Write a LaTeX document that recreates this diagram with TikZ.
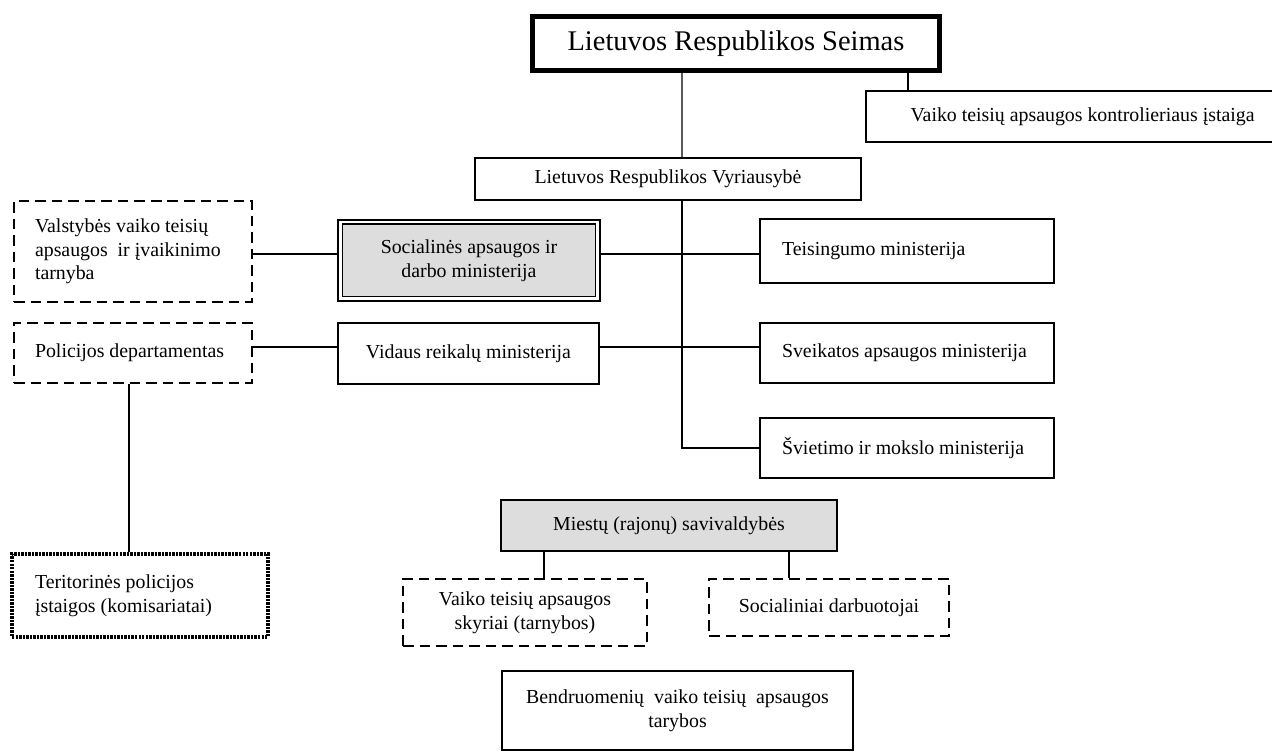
\documentclass[tikz,border=0pt]{standalone}
\usepackage{fontspec}
\setmainfont{Liberation Serif}
\usepackage{xcolor}
\definecolor{boxgray}{RGB}{221,221,221}
\definecolor{linegray}{RGB}{90,90,90}

\tikzset{
  box/.style={draw, line width=1.4pt, inner sep=0pt, align=center},
  lbox/.style={box, align=flush left, text width=#1},
  dbox/.style={box, dash pattern=on 6pt off 3.4pt},
  dotbox/.style={box, line width=2.2pt, dash pattern=on 1.4pt off 0.6pt},
  link/.style={line width=1.1pt},
}

\begin{document}
\begin{tikzpicture}[x=0.02cm, y=-0.02cm, font=\fontsize{11.3}{13.4}\selectfont]
  \useasboundingbox (0,0) rectangle (1272,753);
  \clip (0,0) rectangle (1272,753);
  % top level
  \node[box, line width=2.85pt, minimum width=8.14cm, minimum height=1.08cm,
    font=\fontsize{16.2}{19}\selectfont] (seimas) at (736,43.5) {Lietuvos Respublikos Seimas};
  \node[lbox=7.1cm, inner xsep=0.89cm, minimum height=1.02cm] (kontrol) at (1088,116.5)
    {Vaiko teisių apsaugos kontrolieriaus įstaiga};
  \node[box, minimum width=7.72cm, minimum height=0.84cm] (vyr) at (668,179)
    {Lietuvos Respublikos Vyriausybė};
  % ministries
  \node[box, fill=boxgray, double, line width=1.1pt, double distance=1.7pt,
    minimum width=5.16cm, minimum height=1.54cm] (soc) at (469,260.5)
    {Socialinės apsaugos ir\\darbo ministerija};
  \node[box, minimum width=5.22cm, minimum height=1.22cm] (vid) at (468.5,353.5)
    {Vidaus reikalų ministerija};
  \node[lbox=5.0cm, inner xsep=0.44cm, minimum height=1.28cm] (teis) at (907,251) {Teisingumo ministerija};
  \node[lbox=5.0cm, inner xsep=0.44cm, minimum height=1.2cm] (sveik) at (907,353) {Sveikatos apsaugos ministerija};
  \node[lbox=5.0cm, inner xsep=0.44cm, minimum height=1.2cm] (sviet) at (907,448) {Švietimo ir mokslo ministerija};
  % left side
  \node[dbox, align=flush left, text width=3.92cm, inner xsep=0.42cm, minimum height=2.02cm] (valst) at (133,251.5)
    {Valstybės vaiko teisių\\apsaugos\ \ ir įvaikinimo\\tarnyba};
  \node[dbox, align=flush left, text width=3.92cm, inner xsep=0.42cm, minimum height=1.2cm] (polic) at (133,353)
    {Policijos departamentas};
  \node[dotbox, align=flush left, text width=4.2cm, inner xsep=0.46cm, minimum height=1.66cm] (terit) at (140,595.5)
    {Teritorinės policijos\\įstaigos (komisariatai)};
  % municipalities
  \node[box, fill=boxgray, minimum width=6.72cm, minimum height=1.02cm] (miest) at (669,525.5)
    {Miestų (rajonų) savivaldybės};
  \node[dbox, minimum width=4.88cm, minimum height=1.34cm] (skyr) at (525,612.5)
    {Vaiko teisių apsaugos\\skyriai (tarnybos)};
  \node[dbox, minimum width=4.8cm, minimum height=1.14cm] (socdarb) at (829,607.5)
    {Socialiniai darbuotojai};
  \node[box, minimum width=7.02cm, minimum height=1.58cm] (bendr) at (677.5,710.5)
    {Bendruomenių\ \ vaiko teisių\ \ apsaugos\\tarybos};

  % connectors
  \coordinate (spine) at (682,0);
  \coordinate (kx) at (908,0);
  \coordinate (r1) at (0,254);
  \coordinate (r2) at (0,347);
  \coordinate (px) at (129,0);
  \coordinate (mx1) at (544,0);
  \coordinate (mx2) at (789,0);
  \draw[line width=0.9pt, linegray] (seimas.south -| spine) -- (vyr.north -| spine);
  \draw[link] (seimas.south -| kx) -- (kontrol.north -| kx);
  \draw[link] (vyr.south -| spine) |- (sviet.west);
  \draw[link] (valst.east |- r1) -- (soc.west |- r1);
  \draw[link] (soc.east |- r1) -- (teis.west |- r1);
  \draw[link] (polic.east |- r2) -- (vid.west |- r2);
  \draw[link] (vid.east |- r2) -- (sveik.west |- r2);
  \draw[link] (polic.south -| px) -- (terit.north -| px);
  \draw[link] (miest.south -| mx1) -- (skyr.north -| mx1);
  \draw[link] (miest.south -| mx2) -- (socdarb.north -| mx2);
\end{tikzpicture}
\end{document}
